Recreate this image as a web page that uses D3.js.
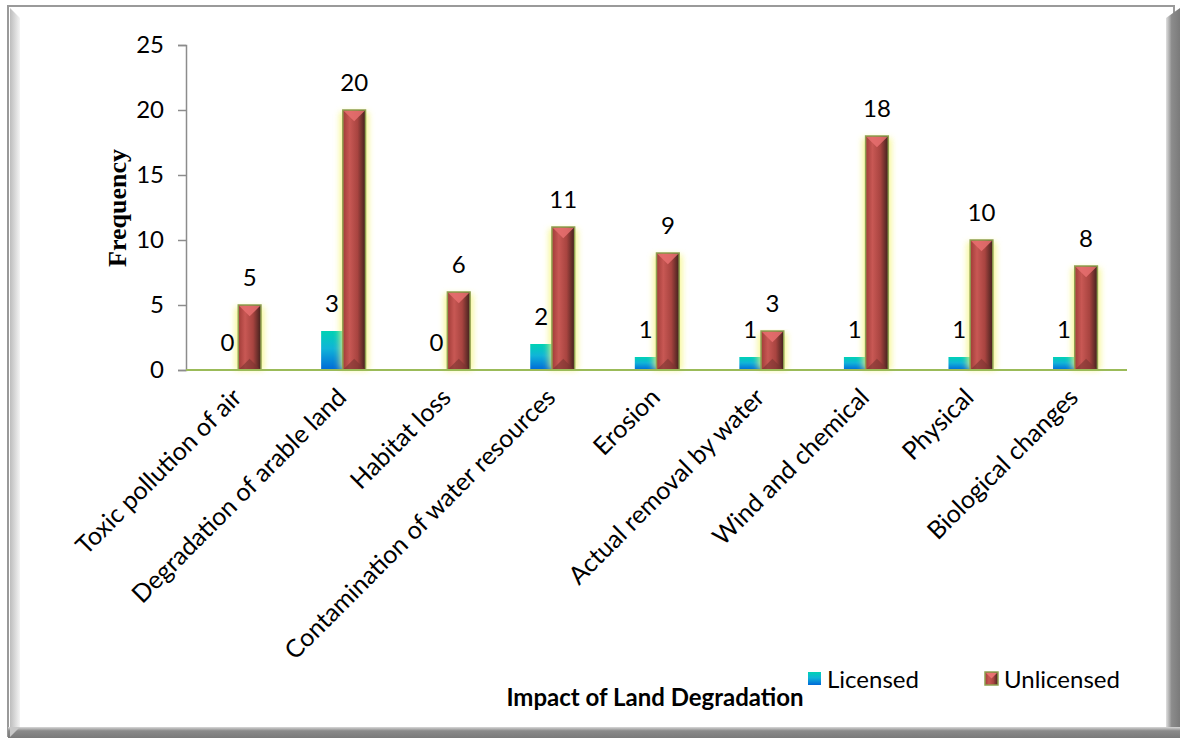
<!DOCTYPE html>
<html><head><meta charset="utf-8">
<script src="https://cdn.jsdelivr.net/npm/d3@7/dist/d3.min.js"></script>
<style>
html,body{margin:0;padding:0;background:#fff;}
svg{display:block;}
</style></head>
<body><svg id="chart" width="1182" height="740" font-family="Lato, 'Open Sans', sans-serif"></svg>
<script>
const categories = ["Toxic pollution of air","Degradation of arable land","Habitat loss","Contamination of water resources","Erosion","Actual removal by water","Wind and chemical","Physical","Biological changes"];
const licensed = [0,3,0,2,1,1,1,1,1];
const unlicensed = [5,20,6,11,9,3,18,10,8];
const seriesNames = ["Licensed","Unlicensed"];
const yTicks = [0,5,10,15,20,25];

(function(){
const svg = d3.select("#chart");
const defs = svg.append("defs");

const gl = defs.append("linearGradient").attr("id","leftBevel").attr("x1","0").attr("x2","1");
gl.append("stop").attr("offset","0").attr("stop-color","#bdbdbd");
gl.append("stop").attr("offset","1").attr("stop-color","#f4f4f4");
const gb = defs.append("linearGradient").attr("id","botBevel").attr("x1","0").attr("y1","0").attr("x2","0").attr("y2","1");
gb.append("stop").attr("offset","0").attr("stop-color","#d8d8d8");
gb.append("stop").attr("offset","0.35").attr("stop-color","#8a8a8a");
gb.append("stop").attr("offset","1").attr("stop-color","#7a7a7a");
const gr = defs.append("linearGradient").attr("id","rightBevel").attr("x1","0").attr("x2","1");
gr.append("stop").attr("offset","0").attr("stop-color","#e0e0e0");
gr.append("stop").attr("offset","0.4").attr("stop-color","#8c8c8c");
gr.append("stop").attr("offset","1").attr("stop-color","#7a7a7a");

const gLic = defs.append("linearGradient").attr("id","licGrad").attr("x1","0").attr("y1","0").attr("x2","0").attr("y2","1");
gLic.append("stop").attr("offset","0").attr("stop-color","#00d2b4");
gLic.append("stop").attr("offset","0.45").attr("stop-color","#10b4d8");
gLic.append("stop").attr("offset","1").attr("stop-color","#0068d8");
const gUn = defs.append("linearGradient").attr("id","unGrad").attr("x1","0").attr("x2","1");
gUn.append("stop").attr("offset","0").attr("stop-color","#a03c38");
gUn.append("stop").attr("offset","0.3").attr("stop-color","#c85854");
gUn.append("stop").attr("offset","0.65").attr("stop-color","#a84440");
gUn.append("stop").attr("offset","1").attr("stop-color","#40201c");
const glow = defs.append("filter").attr("id","glow").attr("x","-50%").attr("y","-10%").attr("width","200%").attr("height","120%");
glow.append("feGaussianBlur").attr("stdDeviation","3");

// frame
svg.append("rect").attr("x",8).attr("y",6).attr("width",1166).attr("height",730).attr("fill","#fff").attr("stroke","#9a9a9a").attr("stroke-width",2);
svg.append("path").attr("d","M10,8 L20,18 L20,727 L10,737 Z").attr("fill","url(#leftBevel)");
svg.append("path").attr("d","M1166,18 L1180,8 L1180,737 L1166,727 Z").attr("fill","url(#rightBevel)");
svg.append("rect").attr("x",8).attr("y",727).attr("width",1172).attr("height",11).attr("fill","url(#botBevel)");
svg.append("path").attr("d","M10,727 L20,727 L10,737 Z").attr("fill","#c8c8c8");

const pL = 186, pR = 1127, pT = 45, pB = 370;
const x0 = d3.scaleBand().domain(categories).range([pL,pR]).paddingInner(0.585).paddingOuter(0.2925);
const x1 = d3.scaleBand().domain(seriesNames).range([0,x0.bandwidth()]);
const y = d3.scaleLinear().domain([0,25]).range([pB,pT]);

const yAxis = d3.axisLeft(y).tickValues(yTicks).tickSize(8).tickPadding(14);
const ya = svg.append("g").attr("transform",`translate(${pL},0)`).call(yAxis);
ya.attr("font-family",null);
ya.select(".domain").attr("stroke","#8c8c8c").attr("stroke-width",1.5);
ya.selectAll(".tick line").attr("stroke","#8c8c8c").attr("stroke-width",1.5);
ya.selectAll(".tick text").attr("font-size",24).attr("fill","#000");

svg.append("text").attr("transform",`translate(126,208) rotate(-90)`).attr("text-anchor","middle")
  .attr("font-family","'Liberation Serif', 'DejaVu Serif', serif").attr("font-weight","bold").attr("font-size",26).text("Frequency");

const g = svg.append("g");
categories.forEach((c,i)=>{
  const lx = x0(c)+x1("Licensed"), lw = x1.bandwidth();
  const ux = x0(c)+x1("Unlicensed"), uw = x1.bandwidth()+1;
  if (licensed[i]>0) g.append("rect").attr("x",lx).attr("y",y(licensed[i])).attr("width",lw).attr("height",pB-y(licensed[i])).attr("fill","url(#licGrad)");
  const uy = y(unlicensed[i]), uh = pB-uy;
  g.append("rect").attr("x",ux-3).attr("y",uy+2).attr("width",uw+6).attr("height",uh-2).attr("fill","#f5f57a").attr("opacity",0.8).attr("filter","url(#glow)");
  g.append("rect").attr("x",ux).attr("y",uy).attr("width",uw).attr("height",uh).attr("fill","url(#unGrad)").attr("stroke","#8fa050").attr("stroke-width",1.5);
  g.append("path").attr("d",`M${ux+1},${uy+1} L${ux+uw-1},${uy+1} L${ux+uw/2},${uy+uw/2}Z`).attr("fill","#e87070").attr("opacity",0.85);
  g.append("path").attr("d",`M${ux+1},${pB-1} L${ux+uw-1},${pB-1} L${ux+uw/2},${pB-uw/2}Z`).attr("fill","#7a3430").attr("opacity",0.6);
  g.append("text").attr("x",lx+lw/2).attr("y",y(licensed[i])-27).attr("dy","0.35em").attr("text-anchor","middle").attr("font-size",24).text(licensed[i]);
  g.append("text").attr("x",ux+uw/2).attr("y",uy-27).attr("dy","0.35em").attr("text-anchor","middle").attr("font-size",24).text(unlicensed[i]);
});

svg.append("line").attr("x1",pL).attr("x2",pR).attr("y1",pB).attr("y2",pB).attr("stroke","#9bbb59").attr("stroke-width",2);

categories.forEach(c=>{
  const cx = x0(c)+x0.bandwidth()/2;
  svg.append("text").attr("transform",`translate(${cx+5},${pB+29}) rotate(-45)`).attr("text-anchor","end")
    .attr("font-size",25).attr("fill","#000").text(c);
});

svg.append("text").attr("x",655).attr("y",706).attr("text-anchor","middle").attr("font-weight","bold").attr("font-size",24).text("Impact of Land Degradation");

const leg = svg.append("g");
leg.append("rect").attr("x",808).attr("y",672).attr("width",13).attr("height",13).attr("fill","url(#licGrad)");
leg.append("text").attr("x",827).attr("y",688).attr("font-size",24).text(seriesNames[0]);
leg.append("rect").attr("x",985).attr("y",672).attr("width",13).attr("height",13).attr("fill","url(#unGrad)").attr("stroke","#8fa050").attr("stroke-width",1.5);
leg.append("path").attr("d","M986,673 L997,673 L991.5,678.5Z").attr("fill","#e87070");
leg.append("text").attr("x",1004).attr("y",688).attr("font-size",24).text(seriesNames[1]);
})();
</script></body></html>
